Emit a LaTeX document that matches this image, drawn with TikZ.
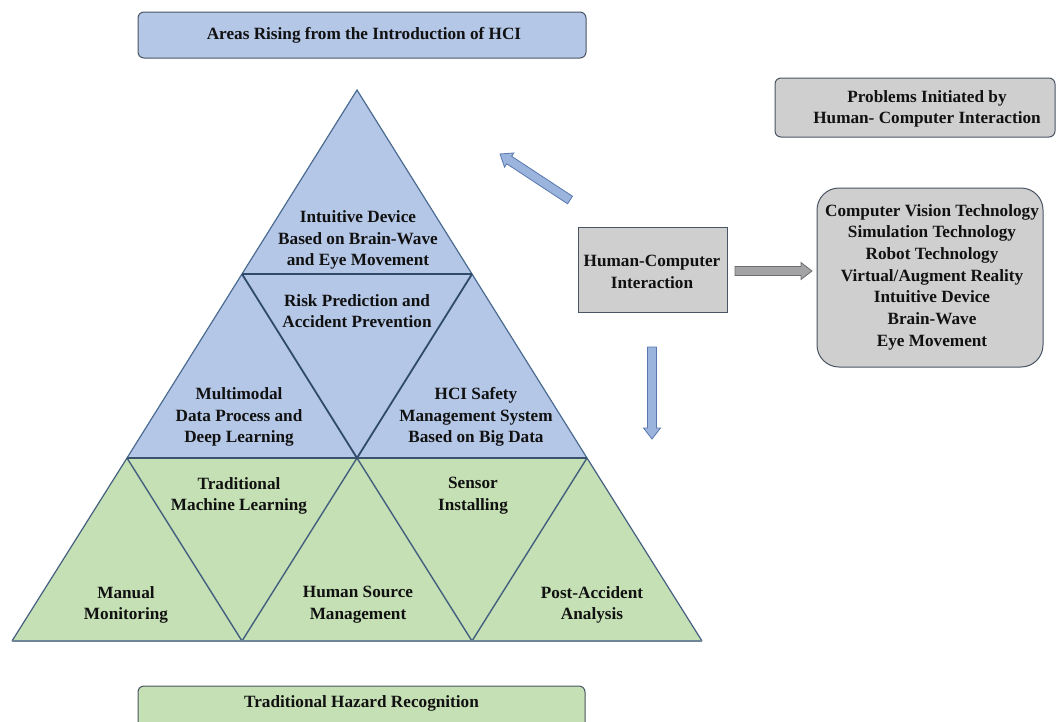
\documentclass[tikz,border=0pt]{standalone}
\usepackage{fontspec}
\setmainfont{Liberation Serif}
\usetikzlibrary{calc}
\definecolor{blueF}{HTML}{B4C7E7}
\definecolor{greenF}{HTML}{C5E0B4}
\definecolor{grayF}{HTML}{CFCFD0}
\definecolor{boxLine}{HTML}{4A5563}
\definecolor{navyLine}{HTML}{2F4A6B}
\definecolor{edgeLine}{HTML}{4A6A90}
\definecolor{greenLine}{HTML}{435F80}
\definecolor{baseLine}{HTML}{6F8699}
\definecolor{arrBlueF}{HTML}{9BB4DE}
\definecolor{arrBlueD}{HTML}{5877AC}
\definecolor{arrGrayF}{HTML}{A3A3A5}
\definecolor{arrGrayD}{HTML}{6E6E70}
\definecolor{txt}{HTML}{111111}
\newcommand{\blockarr}[3]{%
  \coordinate (#1#2h) at ($(#2)!11pt!(#1)$);
  \path[#3] ($(#1)!4.5pt!90:(#2)$) -- ($(#1#2h)!4.5pt!-90:(#1)$) -- ($(#1#2h)!8.5pt!-90:(#1)$)
    -- (#2) -- ($(#1#2h)!8.5pt!90:(#1)$) -- ($(#1#2h)!4.5pt!90:(#1)$) -- ($(#1)!4.5pt!-90:(#2)$) -- cycle;}
\begin{document}
\begin{tikzpicture}[x=1pt,y=-1pt,
  lbl/.style={font=\fontsize{17.2}{21.7}\selectfont\bfseries, align=center, inner sep=0pt, text=txt},
  rbox/.style={draw=boxLine, line width=1pt, rounded corners=6pt},
  blarr/.style={fill=arrBlueF, draw=arrBlueD, line width=0.8pt},
  grarr/.style={fill=arrGrayF, draw=arrGrayD, line width=0.8pt}]
\useasboundingbox (0,0) rectangle (1057,721);
\clip (0,0) rectangle (1057,721);

% triangle geometry
\coordinate (A) at (357,90);
\coordinate (L1a) at (242,274); \coordinate (L1b) at (472,274);
\coordinate (L2a) at (127,458); \coordinate (L2b) at (357,458); \coordinate (L2c) at (587,458);
\coordinate (L3a) at (12,641); \coordinate (L3b) at (242,641); \coordinate (L3c) at (472,641); \coordinate (L3d) at (702,641);

\fill[blueF] (A) -- (L2a) -- (L2c) -- cycle;
\fill[greenF] (L2a) -- (L2c) -- (L3d) -- (L3a) -- cycle;
% green part lines
\draw[greenLine, line width=1.2pt] (L2a) -- (L3a) (L2c) -- (L3d);
\draw[greenLine, line width=1.4pt] (L2a) -- (L3b) -- (L2b) -- (L3c) -- (L2c);
\draw[baseLine, line width=2pt] (L3a) -- (L3d);
% blue part lines
\draw[edgeLine, line width=1.2pt] (L2a) -- (A) -- (L2c);
\draw[navyLine, line width=1.8pt] (L1a) -- (L2b) -- (L1b);
\draw[navyLine, line width=2.2pt] (L1a) -- (L1b);
\draw[navyLine!85!gray, line width=2.6pt] (L2a) -- (L2c);

% triangle labels
\node[lbl] (t1) at (358,240) {Intuitive Device\\Based on Brain-Wave\\and Eye Movement};
\node[lbl] (t2) at (357,311) {Risk Prediction and\\Accident Prevention};
\node[lbl] (t3) at (239,417) {Multimodal\\Data Process and\\Deep Learning};
\node[lbl] (t4) at (476,417) {HCI Safety\\Management System\\Based on Big Data};
\node[lbl] (t5) at (239,496) {Traditional\\Machine Learning};
\node[lbl] (t6) at (473,496) {Sensor\\Installing};
\node[lbl] (t7) at (126,605) {Manual\\Monitoring};
\node[lbl] (t8) at (358,605) {Human Source\\Management};
\node[lbl] (t9) at (592,605) {Post-Accident\\Analysis};

% header / footer boxes
\node[rbox, fill=blueF, minimum width=448pt, minimum height=46pt] (topbox) at (362,35) {};
\node[lbl] (toptext) at (364,35) {Areas Rising from the Introduction of HCI};
\node[rbox, fill=greenF, minimum width=447pt, minimum height=44pt] (hazbox) at (361.5,708) {};
\node[lbl] (haztext) at (361.5,703) {Traditional Hazard Recognition};

% right side
\node[rbox, fill=grayF, minimum width=280pt, minimum height=59pt] (probbox) at (915,107.5) {};
\node[lbl] (probtext) at (927,109) {Problems Initiated by\\Human- Computer Interaction};
\node[draw=boxLine, line width=1pt, fill=grayF, minimum width=149pt, minimum height=85pt] (hci) at (652.5,269.5) {};
\node[lbl] (hcitext) at (652,272) {Human-Computer\\Interaction};
\node[draw=boxLine, line width=1pt, fill=grayF, rounded corners=22pt, minimum width=226pt, minimum height=179pt] (tech) at (930,277.5) {};
\node[lbl] (techtext) at (932,277) {Computer Vision Technology\\Simulation Technology\\Robot Technology\\Virtual/Augment Reality\\Intuitive Device\\Brain-Wave\\Eye Movement};

% arrows
\coordinate (da1) at (570,200); \coordinate (da2) at (500,154);
\coordinate (ra1) at (735,271); \coordinate (ra2) at (812,271);
\coordinate (va1) at (652,347); \coordinate (va2) at (652,439);
\blockarr{da1}{da2}{blarr}
\blockarr{ra1}{ra2}{grarr}
\blockarr{va1}{va2}{blarr}
\end{tikzpicture}
\end{document}
